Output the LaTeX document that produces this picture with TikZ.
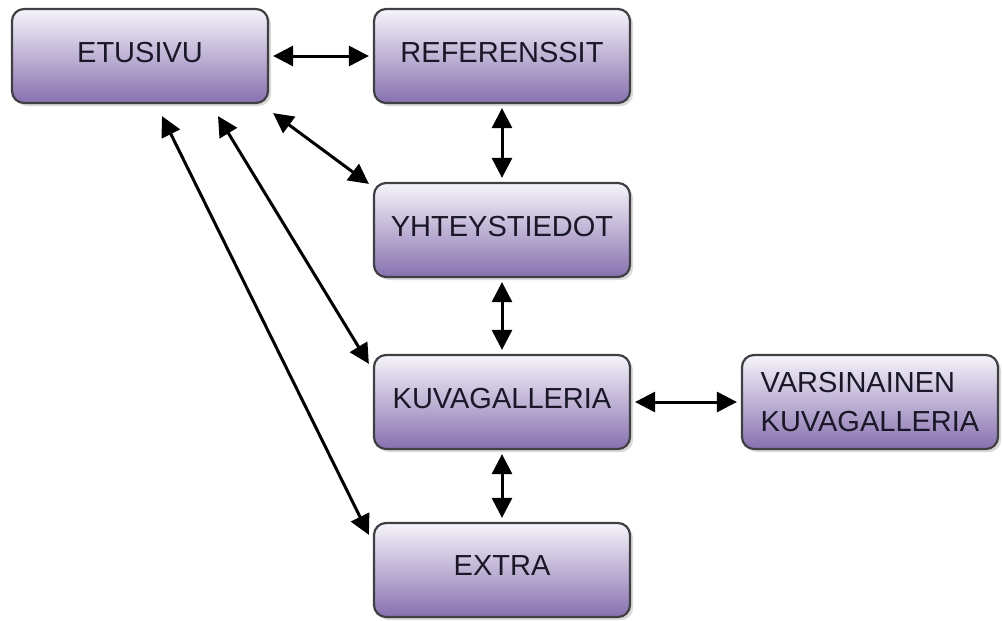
\documentclass[tikz,border=0pt]{standalone}
\usepackage{fontspec}
\setmainfont{Liberation Sans}
\usetikzlibrary{arrows.meta,shadows}
\definecolor{pagetop}{HTML}{F6F4FA}
\definecolor{pagebot}{HTML}{8771AF}
\definecolor{pageline}{HTML}{404044}
\definecolor{pagetext}{HTML}{1A1828}
\tikzset{x=0.5pt,y=-0.5pt,
	page/.style={rectangle,rounded corners=6pt,draw=pageline,line width=1.1pt,
		top color=pagetop,bottom color=pagebot,
		drop shadow={shadow xshift=1.5pt,shadow yshift=-1.5pt,opacity=.3},
		minimum width=128pt,minimum height=47pt,inner sep=2pt,text depth=4pt,
		text=pagetext,font=\fontsize{14.5}{19.5}\selectfont},
	link/.style={{Triangle[length=10pt,width=10pt]}-{Triangle[length=10pt,width=10pt]},
		line width=1.5pt,black}}

\begin{document}
\begin{tikzpicture}
	\useasboundingbox (0,0) rectangle (1002,621);
	\node[page](etusivu) at (140,56){ETUSIVU};
	\node[page](referenssit) at (502,56){REFERENSSIT};
	\node[page](yhteystiedot) at (502,230){YHTEYSTIEDOT};
	\node[page](kuvagalleria) at (502,402){KUVAGALLERIA};
	\node[page](extra) at (502,570){EXTRA};
	\node[page,align=left,text depth=0pt](varsinainen) at (870,402){VARSINAINEN\\KUVAGALLERIA};

	\draw[link,shorten >=2pt,shorten <=2pt](etusivu) -- (referenssit);
	\draw[link,shorten >=2pt,shorten <=2pt](referenssit) -- (yhteystiedot);
	\draw[link,shorten >=2pt,shorten <=2pt](yhteystiedot) -- (kuvagalleria);
	\draw[link,shorten >=2pt,shorten <=2pt](kuvagalleria) -- (extra);
	\draw[link,shorten >=2pt,shorten <=2pt](kuvagalleria) -- (varsinainen);

	\draw[link]([shift={(4,9)}]etusivu.south east) -- ([shift={(-4,2)}]yhteystiedot.north west);
	\draw[link]([shift={(78,12)}]etusivu.south) -- ([shift={(-4,10)}]kuvagalleria.north west);
	\draw[link]([shift={(22,12)}]etusivu.south) -- ([shift={(-4,13)}]extra.north west);
\end{tikzpicture}
\end{document}
